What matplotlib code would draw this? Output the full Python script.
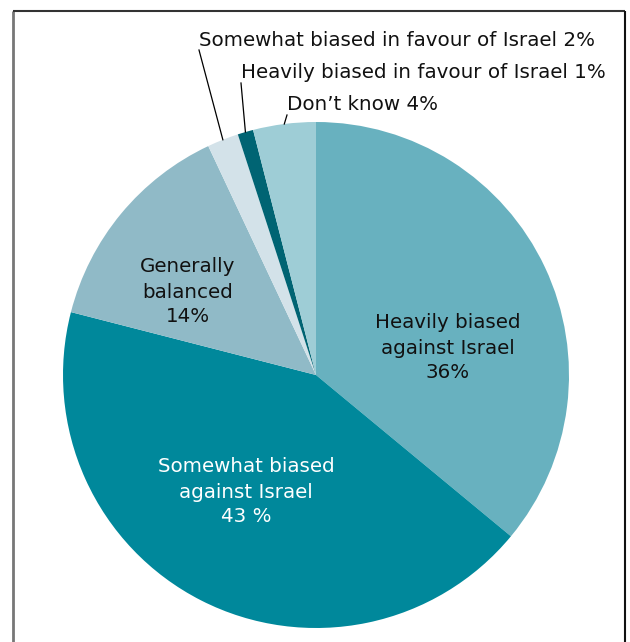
import numpy as np
import matplotlib.pyplot as plt

plt.rcParams['font.family'] = ['DejaVu Sans']

# survey shares, clockwise from 12 o'clock
categories = ['Heavily biased against Israel', 'Somewhat biased against Israel',
              'Generally balanced', 'Somewhat biased in favour of Israel',
              'Heavily biased in favour of Israel', "Don\u2019t know"]
shares = [36, 43, 14, 2, 1, 4]
colors = ['#68b1bf', '#00889b', '#90bac7', '#d3e2e9', '#006473', '#9ecdd6']

# labels drawn inside the large wedges
inside_labels = ['Heavily biased\nagainst Israel\n36%',
                 'Somewhat biased\nagainst Israel\n43 %',
                 'Generally\nbalanced\n14%']
inside_colors = ['#111111', 'white', '#111111']
inside_pos = [(448, 294), (246, 150), (188, 350)]

# small wedges get a leader line to a label above the pie
outside_labels = ['Somewhat biased in favour of Israel 2%',
                  'Heavily biased in favour of Israel 1%',
                  "Don\u2019t know 4%"]
outside_idx = [3, 4, 5]
outside_pos = [(199, 602), (241, 569), (287, 537)]

W, H = 630, 642
CX, CY, R = 316, 267, 253
FS = 14.3

fig = plt.figure(figsize=(W / 100, H / 100), dpi=100)
ax = fig.add_axes([0, 0, 1, 1])

wedges, _ = ax.pie(shares, colors=colors, startangle=90, counterclock=False,
                   center=(CX, CY), radius=R, frame=True,
                   wedgeprops=dict(linewidth=0))
ax.set_xlim(0, W)
ax.set_ylim(0, H)
ax.set_aspect('auto')
ax.axis('off')

for text, col, (x, y) in zip(inside_labels, inside_colors, inside_pos):
    ax.text(x, y, text, ha='center', va='center', fontsize=FS, color=col,
            linespacing=1.4)

for text, i, (x, y) in zip(outside_labels, outside_idx, outside_pos):
    w = wedges[i]
    mid = np.deg2rad((w.theta1 + w.theta2) / 2)
    ex, ey = CX + R * np.cos(mid), CY + R * np.sin(mid)
    ax.plot([ex, x], [ey, y - 10], color='black', lw=0.9)
    ax.text(x, y, text, ha='left', va='center', fontsize=FS, color='#111111')

# box around the chart, open at the bottom
ax.plot([12.5, 12.5], [0, 631], color='#777777', lw=2, solid_capstyle='butt')
ax.plot([12.5, 625], [631, 631], color='#333333', lw=1.5, solid_capstyle='butt')
ax.plot([625, 625], [631, 0], color='#111111', lw=1.5, solid_capstyle='butt')

fig.savefig('out.png', dpi=100)
